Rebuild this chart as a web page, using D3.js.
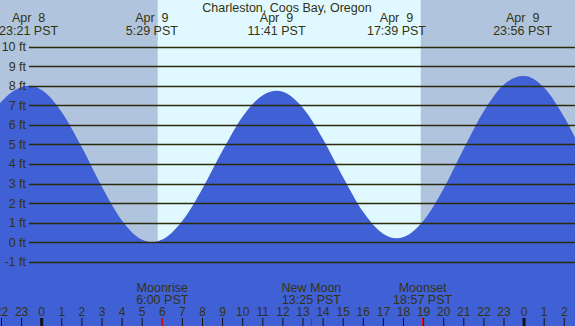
<!DOCTYPE html>
<html>
<head>
<meta charset="utf-8">
<script src="https://cdn.jsdelivr.net/npm/d3@7"></script>
<style>
  html, body { margin: 0; padding: 0; background: #fff; }
  svg { display: block; font-family: "Liberation Sans", Arial, sans-serif; }
</style>
</head>
<body>
<svg id="chart" width="575" height="326"></svg>
<script>
// tide extremes (hours from Apr 9 00:00 PST)
const extremeHours = [-0.65, 5.48, 11.68, 17.65, 23.93];
const extremeHeights = [8.0, 0.0, 7.75, 0.2, 8.5];
const extremeDates = ["Apr  8", "Apr  9", "Apr  9", "Apr  9", "Apr  9"];
const extremeTimes = ["23:21 PST", "5:29 PST", "11:41 PST", "17:39 PST", "23:56 PST"];

// hourly heights
const hourlyHours = [-3, -2, -1, 0, 1, 2, 3, 4, 5, 6, 7, 8, 9, 10, 11, 12, 13, 14,
  15, 16, 17, 18, 19, 20, 21, 22, 23, 24, 25, 26, 27];
const hourlyHeights = [5.77, 7.2, 7.94, 7.78, 6.65, 4.85, 2.82, 1.1, 0.12, 0.13, 1.09,
  2.75, 4.69, 6.43, 7.52, 7.7, 6.87, 5.27, 3.31, 1.54, 0.42, 0.26, 1.11, 2.75, 4.79,
  6.71, 8.06, 8.5, 7.9, 6.39, 4.33];

const sunrise = 5.77;
const sunset = 18.86;

const feetTicks = [-1, 0, 1, 2, 3, 4, 5, 6, 7, 8, 9, 10];
const hourTicks = d3.range(-2, 27);

const moonEvents = [
  { hour: 6.0, name: "Moonrise", time: "6:00 PST" },
  { hour: 13.42, name: "New Moon", time: "13:25 PST" },
  { hour: 18.95, name: "Moonset", time: "18:57 PST" },
];

const W = 575, H = 326;
const textColor = "#333311";
const svg = d3.select("#chart");

const x = d3.scaleLinear().domain([0, 24]).range([41.7, 524.1]);
const y = d3.scaleLinear().domain([-1, 10]).range([261.7, 46.7]);

// night / day background
svg.append("rect").attr("width", W).attr("height", H).attr("fill", "#b0c4de");
svg.append("rect")
  .attr("x", x(sunrise)).attr("y", 0)
  .attr("width", x(sunset) - x(sunrise)).attr("height", H)
  .attr("fill", "#e0f8ff");

// tide curve
const pts = hourlyHours.map((h, i) => [h, hourlyHeights[i]])
  .concat(extremeHours.map((h, i) => [h, extremeHeights[i]]))
  .sort((a, b) => a[0] - b[0]);

const area = d3.area()
  .x((d) => x(d[0]))
  .y0(H)
  .y1((d) => y(d[1]))
  .curve(d3.curveMonotoneX);

svg.append("path").datum(pts).attr("d", area).attr("fill", "#4060d6");

// grid lines + feet labels
const grid = svg.append("g");
grid.selectAll("line")
  .data(feetTicks)
  .join("line")
  .attr("x1", 29).attr("x2", W)
  .attr("y1", (d) => Math.round(y(d)) + 0.5)
  .attr("y2", (d) => Math.round(y(d)) + 0.5)
  .attr("stroke", "#2b2b0c")
  .attr("stroke-width", 1.3);

grid.selectAll("text")
  .data(feetTicks)
  .join("text")
  .attr("x", 26)
  .attr("y", (d) => y(d) + 4.5)
  .attr("text-anchor", "end")
  .attr("font-size", 12.5)
  .attr("fill", textColor)
  .text((d) => `${d} ft`);

// title
svg.append("text")
  .attr("x", 287).attr("y", 11.5)
  .attr("text-anchor", "middle")
  .attr("font-size", 12.5)
  .attr("fill", textColor)
  .text("Charleston, Coos Bay, Oregon");

// extreme labels
const ext = svg.append("g").selectAll("g")
  .data(extremeHours)
  .join("g")
  .attr("transform", (d) => `translate(${x(d)},0)`)
  .attr("text-anchor", "middle")
  .attr("font-size", 12.5)
  .attr("fill", textColor);
ext.append("text").attr("y", 22).style("white-space", "pre").text((d, i) => extremeDates[i]);
ext.append("text").attr("y", 35).text((d, i) => extremeTimes[i]);

// hour ticks & labels
const axis = svg.append("g");
axis.selectAll("line")
  .data(hourTicks)
  .join("line")
  .attr("x1", (d) => x(d)).attr("x2", (d) => x(d))
  .attr("y1", 318).attr("y2", H)
  .attr("stroke", "#111")
  .attr("stroke-width", (d) => (d % 24 === 0 ? 3 : 1));

axis.selectAll("text")
  .data(hourTicks)
  .join("text")
  .attr("x", (d) => x(d))
  .attr("y", 316)
  .attr("text-anchor", "middle")
  .attr("font-size", 12)
  .attr("fill", textColor)
  .text((d) => ((d % 24) + 24) % 24);

// moon events
const moon = svg.append("g").selectAll("g")
  .data(moonEvents)
  .join("g")
  .attr("transform", (d) => `translate(${x(d.hour)},0)`);
moon.append("line")
  .attr("y1", 318).attr("y2", H)
  .attr("stroke", "#ff0000").attr("stroke-width", 1);
moon.append("text")
  .attr("y", 292).attr("text-anchor", "middle")
  .attr("font-size", 12.5).attr("fill", textColor)
  .text((d) => d.name);
moon.append("text")
  .attr("y", 304).attr("text-anchor", "middle")
  .attr("font-size", 12.5).attr("fill", textColor)
  .text((d) => d.time);
</script>
</body>
</html>
